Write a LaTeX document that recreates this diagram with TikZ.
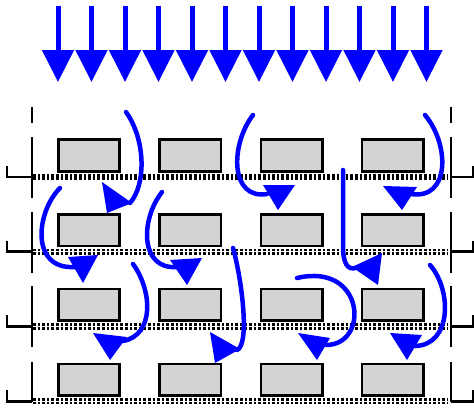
\documentclass[tikz,border=0pt]{standalone}
\usepackage{tikz}
\usetikzlibrary{arrows.meta}
\definecolor{flowblue}{RGB}{0,0,255}
\definecolor{slabgray}{RGB}{211,211,211}

\begin{document}
\begin{tikzpicture}[x=1pt, y=-1pt,
    cell/.style={draw=black, line width=2.6pt, fill=slabgray, minimum width=61.5pt, minimum height=31.5pt, inner sep=0pt},
    wall/.style={line width=2.8pt},
    floordots/.style={line width=2.8pt, dash pattern=on 2.6pt off 2pt},
    feed/.style={flowblue, line width=5pt, -{Triangle[width=31pt,length=32pt]}},
    drift/.style={flowblue, line width=4.5pt, line cap=round}]
    \useasboundingbox (0,0) rectangle (474,408);

    % incoming flow
    \foreach \k in {0,...,11}
        \draw[feed] ({58+33.5*\k}, 6) -- ({58+33.5*\k}, 82);

    % top dashes of the side walls
    \draw[wall] (32,107) -- (32,123);
    \draw[wall] (451,107) -- (451,123);

    % four shelves: cells, dotted floor, walls with brackets
    \foreach \r in {0,...,3} {
        \pgfmathsetmacro{\fy}{177+74.7*\r}
        \foreach \c in {0,...,3}
            \node[cell] (cell\r\c) at ({89+101.3*\c}, \fy-21.5) {};
        \draw[floordots] (33,\fy-1.8) -- (448,\fy-1.8);
        \draw[floordots] (33,\fy+1.8) -- (448,\fy+1.8);
        \ifnum\r<3
            \draw[wall] (32,\fy-40) -- (32,\fy+21);
            \draw[wall] (451,\fy-40) -- (451,\fy+21);
        \else
            \draw[wall] (32,\fy-39) -- (32,\fy+1);
            \draw[wall] (451,\fy-39) -- (451,\fy+1);
        \fi
        \draw[wall] (7,\fy-11) -- (7,\fy) -- (32,\fy);
        \draw[wall] (473,\fy-11) -- (473,\fy) -- (451,\fy);
    }

    % paths between the shelves
    \draw[drift] (126,112) .. controls (146,140) and (146,185) .. (130,203);
    \fill[flowblue] (102,182) -- (107,213) -- (132,203) -- cycle;

    \draw[drift] (253,115) .. controls (230,145) and (230,200) .. (267,194);
    \fill[flowblue] (263,185) -- (295,185) -- (278,210) -- cycle;

    \draw[drift] (425,115) .. controls (450,145) and (450,200) .. (411,194);
    \fill[flowblue] (383,186) -- (417,187) -- (402,210) -- cycle;

    \draw[drift] (343,170) -- (343,245) .. controls (343,265) and (348,270) .. (356,268);
    \fill[flowblue] (382,253) -- (352,267) -- (378,285) -- cycle;

    \draw[drift] (60,188) .. controls (36,212) and (30,270) .. (75,267);
    \fill[flowblue] (68,257) -- (98,255) -- (83,283) -- cycle;

    \draw[drift] (162,192) .. controls (140,220) and (140,270) .. (177,267);
    \fill[flowblue] (170,260) -- (202,258) -- (187,285) -- cycle;

    \draw[drift] (133,264) .. controls (152,290) and (155,335) .. (123,341);
    \fill[flowblue] (93,333) -- (127,337) -- (110,360) -- cycle;

    \draw[drift] (233,248) .. controls (242,280) and (250,345) .. (237,350);
    \fill[flowblue] (210,332) -- (215,363) -- (240,349) -- cycle;

    \draw[drift] (297,278) .. controls (365,262) and (370,345) .. (326,345);
    \fill[flowblue] (298,333) -- (330,338) -- (317,360) -- cycle;

    \draw[drift] (430,265) .. controls (452,290) and (452,345) .. (415,346);
    \fill[flowblue] (390,333) -- (422,335) -- (407,360) -- cycle;
\end{tikzpicture}
\end{document}
